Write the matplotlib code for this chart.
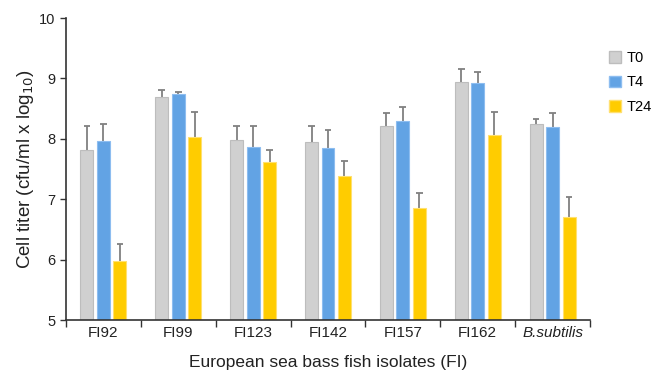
import matplotlib
matplotlib.use("Agg")
import matplotlib.pyplot as plt
import numpy as np
from matplotlib.patches import Patch

plt.rcParams['font.family'] = ['Liberation Sans', 'DejaVu Sans']

categories = ["FI92", "FI99", "FI123", "FI142", "FI157", "FI162", "B.subtilis"]
series_names = ["T0", "T4", "T24"]
t0 = [7.82, 8.70, 7.98, 7.94, 8.22, 8.94, 8.24]
t4 = [7.96, 8.75, 7.87, 7.85, 8.29, 8.92, 8.19]
t24 = [5.97, 8.03, 7.61, 7.39, 6.86, 8.07, 6.70]
t0_err = [0.40, 0.10, 0.24, 0.27, 0.20, 0.21, 0.08]
t4_err = [0.28, 0.03, 0.35, 0.29, 0.24, 0.18, 0.24]
t24_err = [0.28, 0.41, 0.20, 0.24, 0.24, 0.37, 0.34]

colors = ["#d0d0d0", "#62a3e4", "#ffcc00"]
edges = ["#bdbdbd", "#8dbdf0", "#ffe070"]

fig = plt.figure(figsize=(6.52, 3.74), dpi=100)
ax = fig.add_axes([66/652, 54/374, 524/652, 302/374])

x = np.arange(len(categories)) + 0.5
w = 0.173
sp = 0.22
cw = 0.045
vals = [np.array(t0), np.array(t4), np.array(t24)]
errs = [np.array(t0_err), np.array(t4_err), np.array(t24_err)]
for i in range(3):
    xi = x + (i - 1) * sp
    ax.bar(xi, vals[i], width=w, bottom=0, color=colors[i], edgecolor=edges[i],
           linewidth=0.8, zorder=2)
    ax.vlines(xi, vals[i], vals[i] + errs[i], color="#808080", linewidth=1.3, zorder=1)
    ax.hlines(vals[i] + errs[i], xi - cw, xi + cw, color="#808080", linewidth=1.3, zorder=1)

ax.set_xlim(0, len(categories))
ax.set_ylim(5, 10)
ax.set_yticks([5, 6, 7, 8, 9, 10])
ax.set_xticks(np.arange(len(categories) + 1))
ax.set_xticklabels([])
ax.set_xticks(x, minor=True)
ax.set_xticklabels(categories, minor=True, fontsize=11)
for lbl in ax.get_xticklabels(minor=True):
    if lbl.get_text() == "B.subtilis":
        lbl.set_style("italic")
ax.tick_params(axis='x', which='minor', length=0, pad=4, colors="#222222")
ax.tick_params(axis='x', which='major', length=5, width=1, color="#333333")
ax.tick_params(axis='y', length=4, width=1, labelsize=10.5, color="#333333", labelcolor="#222222")

for s in ["top", "right"]:
    ax.spines[s].set_visible(False)
for s in ["left", "bottom"]:
    ax.spines[s].set_color("#333333")
    ax.spines[s].set_linewidth(1.2)

ax.set_ylabel("Cell titer (cfu/ml x log$_{10}$)", fontsize=13.5, color="#222222", labelpad=2)
ax.set_xlabel("European sea bass fish isolates (FI)", fontsize=12.5, color="#222222", labelpad=11)

handles = [Patch(facecolor=colors[i], edgecolor=edges[i], label=series_names[i]) for i in range(3)]
fig.legend(handles=handles, loc='upper left', bbox_to_anchor=(609/652, 1 - 51/374),
           frameon=False, handlelength=0.8, handleheight=0.8,
           handletextpad=0.4, labelspacing=0.72, borderaxespad=0, borderpad=0,
           prop={'size': 10.5})

fig.savefig("out.png", dpi=100)
